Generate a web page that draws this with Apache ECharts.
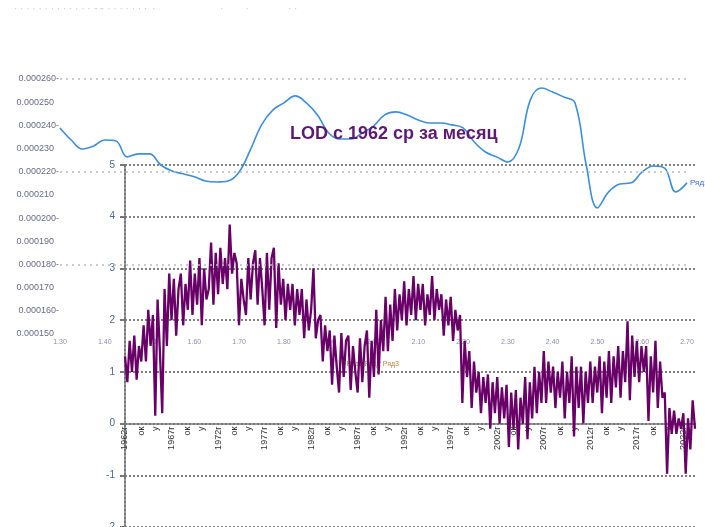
<!DOCTYPE html>
<html><head><meta charset="utf-8">
<script src="https://cdn.jsdelivr.net/npm/echarts@6/dist/echarts.min.js"></script>
<style>html,body{margin:0;padding:0;background:#fff}#c{width:705px;height:527px}</style>
</head><body><div id="c"></div>
<script>
// ---- main series: LOD monthly-average (sampled quarterly), 1962 Q1 .. 2023 Q2
var startYear = 1962;
var lodValues = [
 1.3,0.8,1.6,1.0, 1.7,0.85,1.5,1.2, 1.9,1.2,2.2,1.5, 2.1,0.15,2.4,1.4, 0.2,2.6,1.5,2.9,
 2.0,2.8,1.7,2.6, 2.9,1.9,2.7,2.2, 3.15,2.1,2.9,2.3, 3.2,1.9,3.0,2.4, 2.6,3.5,2.3,3.3,
 2.5,3.4,2.7,3.2, 2.6,3.85,2.9,3.3, 3.1,1.9,2.8,2.4, 2.1,3.2,2.4,3.1, 3.35,2.3,3.2,2.6,
 1.9,3.3,2.2,3.2, 3.4,1.85,3.1,2.3, 2.8,2.0,2.7,2.2, 2.7,1.9,2.6,2.1, 2.6,1.65,2.4,1.8,
 2.2,3.0,1.65,2.0, 2.1,1.2,1.9,1.4, 1.8,0.75,1.7,1.1, 0.6,1.75,0.9,1.6, 1.7,0.65,1.5,1.0,
 0.6,1.65,0.8,1.5, 1.8,0.5,1.6,0.9, 2.2,0.95,2.0,1.4, 2.45,1.4,2.3,1.6, 2.6,1.8,2.5,2.0,
 2.75,1.9,2.6,2.1, 2.85,2.0,2.7,2.2, 2.7,1.9,2.5,2.1, 2.85,2.0,2.6,2.2, 2.5,1.7,2.4,1.9,
 2.45,1.6,2.2,1.8, 2.1,0.4,1.6,0.9, 1.4,0.3,1.2,0.6, 1.0,0.2,0.9,0.4, 0.95,-0.1,0.8,0.2,
 0.9,0.0,0.7,0.1, 0.75,-0.45,0.6,-0.1, 0.65,-0.5,0.5,0.0, 0.9,-0.3,0.8,0.1, 1.1,0.2,1.0,0.4,
 1.4,0.4,1.2,0.6, 1.1,0.3,1.0,0.5, 1.2,0.1,1.0,0.4, 1.3,-0.25,1.1,0.3, 1.1,0.0,1.0,0.4,
 1.2,0.4,1.1,0.6, 1.3,0.2,1.2,0.5, 1.4,0.4,1.3,0.7, 1.5,0.5,1.4,0.8, 1.98,0.45,1.7,0.9,
 1.6,0.8,1.5,1.0, 1.5,0.05,1.3,0.6, 1.6,0.3,1.2,0.5, 0.6,-0.97,0.3,-0.2, 0.25,-0.2,0.1,-0.1,
 0.2,-0.97,0.1,-0.5, 0.45,-0.1
];
// tick-label texts inside each 5-year block (every 20 months)
var blockLabels = ['г', 'ок', 'у'];
var blockOffsets = [0, 7, 13];   // quarter offsets inside a 20-quarter block
var mainYMin = -2, mainYMax = 5, mainYStep = 1;

// ---- overlaid second chart (blue smoothed curve)
var blueXStart = 1.3, blueXStep = 0.025;
var blueValues = [
 238.9,233.7,229.8,231.1,233.7,233.3,226.4,227.7,227.7,222.9,
 220.3,219.1,217.8,216.0,215.6,216.0,219.9,229.4,240.2,246.6,
 249.7,252.7,249.7,244.5,236.7,234.1,234.1,236.7,239.7,244.5,
 245.8,244.5,242.3,241.0,241.0,240.2,238.9,232.8,228.5,226.4,
 224.2,230.3,250.9,256.1,254.4,252.2,249.7,222.9,204.4,211.3,
 214.7,215.2,219.9,222.5,221.6,211.3,215.2
];
var blueGridLevels = [260, 220, 180];
var titleText = 'LOD с 1962 ср за месяц';
var blueName = 'Ряд1';

var cats = [], labelMap = {};
for (var i = 0; i < lodValues.length; i++) {
  var y = startYear + Math.floor(i / 4);
  cats.push(y + ' Q' + (i % 4 + 1));
  var b = i % 20, k = blockOffsets.indexOf(b);
  if (k >= 0) labelMap[i] = (k === 0 ? (startYear + 5 * Math.floor(i / 20)) + blockLabels[0] : blockLabels[k]);
}
var blueData = blueValues.map(function (v, i) { return [+(blueXStart + i * blueXStep).toFixed(3), v]; });

var W = 705, H = 527;
var g0 = {left: 125, right: 10, top: 165, bottom: 0};
// place the category axis on the zero line of the value axis
var plotH = H - g0.top - g0.bottom;
var zeroFromBottom = plotH * (0 - mainYMin) / (mainYMax - mainYMin);

var chart = echarts.init(document.getElementById('c'), null, {renderer: 'canvas'});
chart.setOption({
  animation: false,
  backgroundColor: '#ffffff',
  title: {
    text: titleText, left: 285, top: 120,
    textStyle: {fontSize: 18, fontWeight: 'bold', color: '#5e1a72', fontFamily: 'Liberation Sans Narrow, Liberation Sans, sans-serif'}
  },
  grid: [
    {left: g0.left, right: g0.right, top: g0.top, bottom: g0.bottom, containLabel: false, outerBoundsMode: 'none'},
    {left: 60, right: 18, top: 79, bottom: 193, containLabel: false, outerBoundsMode: 'none'}
  ],
  xAxis: [
    {
      type: 'category', gridIndex: 0, data: cats, boundaryGap: false,
      position: 'bottom', offset: -zeroFromBottom,
      axisLine: {onZero: false, lineStyle: {color: '#777', width: 2, type: 'dotted'}},
      axisTick: {show: false},
      splitLine: {show: false},
      axisLabel: {
        rotate: 90, margin: 3, fontSize: 9, color: '#333', fontFamily: 'Liberation Sans',
        interval: function (idx) { return labelMap[idx] !== undefined; },
        formatter: function (v, idx) { return labelMap[idx] || ''; }
      }
    },
    {
      type: 'value', gridIndex: 1, min: 1.3, max: 2.7, interval: 0.1,
      axisLine: {show: false}, axisTick: {show: false}, splitLine: {show: false},
      axisLabel: {fontSize: 7, color: '#8c8cb4', margin: 5, formatter: function (v) { return v.toFixed(2); }}
    }
  ],
  yAxis: [
    {
      type: 'value', gridIndex: 0, min: mainYMin, max: mainYMax, interval: mainYStep,
      axisLine: {show: true, onZero: false, lineStyle: {color: '#777', width: 2, type: 'dotted'}},
      axisTick: {show: true, length: 5, lineStyle: {color: '#777', width: 2}},
      splitLine: {show: true, lineStyle: {color: '#808080', width: 2, type: 'dotted'}},
      axisLabel: {fontSize: 10, color: '#4a6a9a', margin: 10, fontFamily: 'Liberation Sans'}
    },
    {
      type: 'value', gridIndex: 1, min: 150, max: 260, interval: 10,
      axisLine: {show: false}, axisTick: {show: false}, splitLine: {show: false},
      axisLabel: {fontSize: 9, color: '#6a6a8a', margin: 1, fontFamily: 'Liberation Sans',
        formatter: function (v) { return '0.000' + v + (v % 20 === 0 ? '-' : '  '); }}
    }
  ],
  series: [
    {
      name: blueName, type: 'line', xAxisIndex: 1, yAxisIndex: 1, data: blueData,
      smooth: 0.4, showSymbol: false, z: 3,
      lineStyle: {color: '#3d8fdb', width: 1.6},
      endLabel: {show: true, formatter: blueName, color: '#3d6fdb', fontSize: 8, distance: 3},
      markLine: {
        silent: true, symbol: 'none', label: {show: false},
        lineStyle: {color: '#bbbbbb', width: 1.5, type: [2, 4]},
        data: blueGridLevels.map(function (v) { return {yAxis: v}; })
      }
    },
    {
      name: 'LOD', type: 'line', xAxisIndex: 0, yAxisIndex: 0, data: lodValues,
      showSymbol: false, z: 4,
      lineStyle: {color: '#680068', width: 2.3}
    }
  ],
  graphic: [
    {type: 'text', left: 14, top: 4, style: {text: '· · · · · · · · · · · · · · ·', fill: '#c8c8ee', font: '10px sans-serif'}},
    {type: 'text', left: 95, top: 4, style: {text: '· · · · · · · · ·', fill: '#c8c8ee', font: '10px sans-serif'}},
    {type: 'text', left: 152, top: 4, style: {text: '·', fill: '#cccccc', font: '10px sans-serif'}},
    {type: 'text', left: 220, top: 4, style: {text: '·        ·', fill: '#cccccc', font: '10px sans-serif'}},
    {type: 'text', left: 288, top: 4, style: {text: '· ·', fill: '#cccccc', font: '10px sans-serif'}},
    {type: 'text', left: 337, top: 361, z: 1, style: {text: '° ° Ряд1 Ряд2 Ряд3', fill: '#c08040', font: '7px Liberation Sans'}}
  ]
});
</script>
</body></html>
